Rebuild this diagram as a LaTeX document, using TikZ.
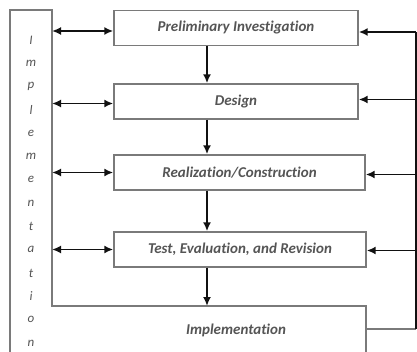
\documentclass[tikz,border=0pt]{standalone}
\usepackage{fontspec}
\newfontfamily\boxfont[Ligatures={NoCommon}]{Carlito}
\usepackage{xcolor}
\definecolor{ink}{HTML}{111111}
\definecolor{frame}{HTML}{7A7A7A}
\definecolor{label}{HTML}{555555}
\usepackage{tikz}
\usetikzlibrary{arrows.meta, positioning}
\tikzset{
  >={Latex[length=9pt, width=8pt]},
  stagebox/.style={draw=frame, line width=1.4pt, fill=white, inner sep=0pt, minimum height=35pt,
    font=\boxfont\bfseries\itshape\fontsize{15}{17}\selectfont, text=label},
  flow/.style={->, line width=1.8pt, color=ink},
  link/.style={<->, line width=1.8pt, color=ink},
  letter/.style={font=\boxfont\itshape\fontsize{13}{15}\selectfont, text=label, inner sep=0pt},
}

\begin{document}
\begin{tikzpicture}[x=1pt, y=-1pt]
  \clip (0,0) rectangle (417,352);
  \fill[white] (0,0) rectangle (417,352);

  % The implementation column and the last stage, one outline.
  \draw[frame, line width=1.4pt] (10,362) -- (10,10) -- (52,10) -- (52,306) -- (366,306) -- (366,362);

  \foreach \ch [count=\i] in {I,m,p,l,e,m,e,n,t,a,t,i,o,n}
    \node[letter] (ch\i) at (31, {40+23.3*(\i-1)}) {\ch};

  % The stages.
  \node[stagebox, minimum width=244pt] (prelim)  at (236,28)    {Preliminary Investigation};
  \node[stagebox, minimum width=244pt] (design)  at (236,101.5) {Design};
  \node[stagebox, minimum width=251pt] (realize) at (239.5,172.5) {Realization/Construction};
  \node[stagebox, minimum width=252pt] (test)    at (240,249.5) {Test, Evaluation, and Revision};
  \node[stagebox, draw=none, fill=none] (impl) at (236,330) {Implementation};

  \coordinate (spine) at (207,0);
  \coordinate (colR) at (52,0);
  \coordinate (fb) at (416,0);
  \coordinate (implN) at (52,306);
  \coordinate (implE) at (366,329);

  % Down the stages.
  \draw[flow] (spine |- prelim.south) -- (spine |- design.north);
  \draw[flow] (spine |- design.south) -- (spine |- realize.north);
  \draw[flow] (spine |- realize.south) -- (spine |- test.north);
  \draw[flow] (spine |- test.south) -- (spine |- implN);

  % Implementation to and from every stage.
  \foreach \s/\d in {prelim/3, design/2, realize/0, test/0}
    \draw[link] ([yshift=-\d pt]colR |- \s.west) -- ([yshift=-\d pt]\s.west);

  % Feedback up the right side.
  \draw[line width=1.4pt, frame] (implE) -- (fb |- implE);
  \draw[line width=1.8pt, ink] (fb |- implE) -- ([yshift=-4pt]fb |- prelim.east);
  \foreach \s/\d in {prelim/4, design/-2, realize/2, test/1}
    \draw[flow] ([yshift=-\d pt]fb |- \s.east) -- ([yshift=-\d pt]\s.east);
\end{tikzpicture}
\end{document}
